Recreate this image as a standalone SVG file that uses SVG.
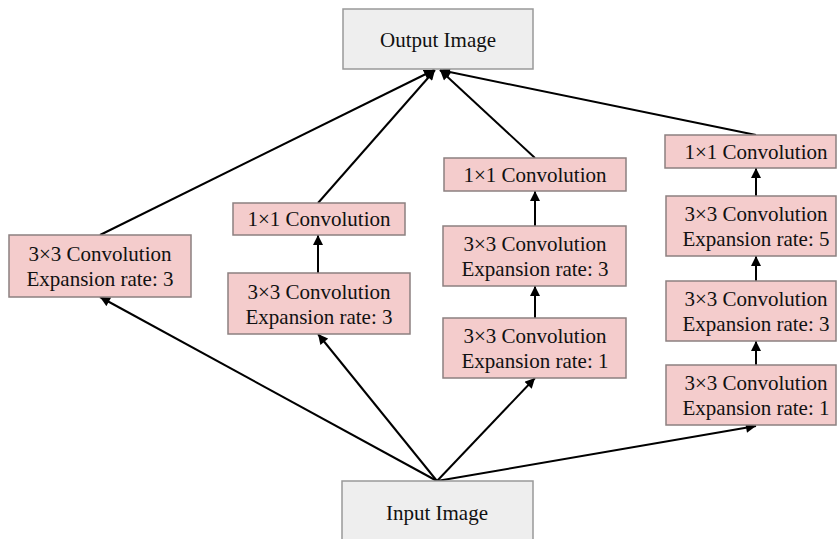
<svg xmlns="http://www.w3.org/2000/svg" width="837" height="539" viewBox="0 0 837 539">
<style>
.io{fill:#eeeeee;stroke:#999999;stroke-width:1.5}
.cv{fill:#f4cccc;stroke:#8c8080;stroke-width:1.5}
text{font-family:'Liberation Serif',serif;font-size:21px;fill:#111;text-anchor:middle}
.e{stroke:#000;stroke-width:2;fill:none;marker-end:url(#ah)}
</style>
<defs>
<marker id="ah" viewBox="0 0 10 10" refX="10" refY="5" markerWidth="11" markerHeight="10" markerUnits="userSpaceOnUse" orient="auto">
<path d="M0,0 L10,5 L0,10 Z" fill="#000"/>
</marker>
</defs>
<g id="edges">
<line class="e" x1="437" y1="481" x2="100" y2="297"/>
<line class="e" x1="437" y1="481" x2="318" y2="334"/>
<line class="e" x1="437" y1="481" x2="535" y2="378"/>
<line class="e" x1="437" y1="481" x2="756" y2="426"/>
<line class="e" x1="318" y1="273" x2="318" y2="235"/>
<line class="e" x1="535" y1="318" x2="535" y2="286"/>
<line class="e" x1="535" y1="226" x2="535" y2="191"/>
<line class="e" x1="756" y1="365" x2="756" y2="341"/>
<line class="e" x1="756" y1="281" x2="756" y2="256"/>
<line class="e" x1="756" y1="196" x2="756" y2="168"/>
<line class="e" x1="100" y1="235" x2="434" y2="70"/>
<line class="e" x1="318" y1="203" x2="435" y2="70"/>
<line class="e" x1="535" y1="158" x2="440" y2="70"/>
<line class="e" x1="756" y1="135" x2="440" y2="70"/>
</g>
<g id="output"><rect class="io" x="343" y="9" width="190" height="60"/><text x="438" y="47">Output Image</text></g>
<g id="input"><rect class="io" x="342" y="481" width="191" height="70"/><text x="437" y="520">Input Image</text></g>
<g id="c1"><rect class="cv" x="9" y="235" width="182" height="62"/><text x="100" y="261">3×3 Convolution</text><text x="100" y="286">Expansion rate: 3</text></g>
<g id="c2a"><rect class="cv" x="233" y="203" width="172" height="32"/><text x="319" y="226">1×1 Convolution</text></g>
<g id="c2b"><rect class="cv" x="228" y="273" width="182" height="61"/><text x="319" y="299">3×3 Convolution</text><text x="319" y="324">Expansion rate: 3</text></g>
<g id="c3a"><rect class="cv" x="444" y="158" width="182" height="33"/><text x="535" y="182">1×1 Convolution</text></g>
<g id="c3b"><rect class="cv" x="443" y="226" width="183" height="60"/><text x="535" y="251">3×3 Convolution</text><text x="535" y="276">Expansion rate: 3</text></g>
<g id="c3c"><rect class="cv" x="443" y="318" width="183" height="60"/><text x="535" y="343">3×3 Convolution</text><text x="535" y="368">Expansion rate: 1</text></g>
<g id="c4a"><rect class="cv" x="665" y="135" width="171" height="33"/><text x="756" y="159">1×1 Convolution</text></g>
<g id="c4b"><rect class="cv" x="666" y="196" width="170" height="60"/><text x="756" y="221">3×3 Convolution</text><text x="756" y="246">Expansion rate: 5</text></g>
<g id="c4c"><rect class="cv" x="666" y="281" width="170" height="60"/><text x="756" y="306">3×3 Convolution</text><text x="756" y="331">Expansion rate: 3</text></g>
<g id="c4d"><rect class="cv" x="666" y="365" width="170" height="60"/><text x="756" y="390">3×3 Convolution</text><text x="756" y="415">Expansion rate: 1</text></g>
</svg>
